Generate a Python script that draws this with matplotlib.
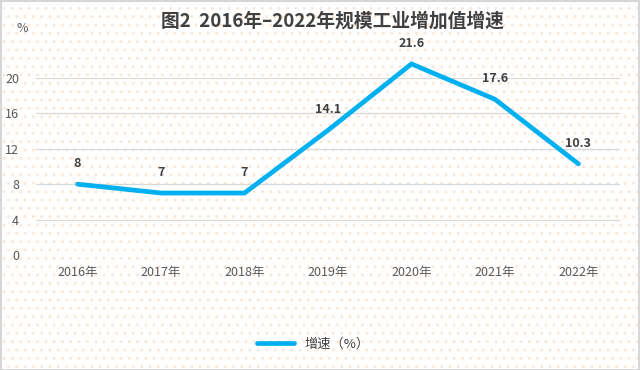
import matplotlib
matplotlib.use('Agg')
import matplotlib.pyplot as plt
from matplotlib.patches import Rectangle

plt.rcParams['font.family'] = ['Noto Sans CJK SC', 'DejaVu Sans']
plt.rcParams['hatch.linewidth'] = 0.8

years = ['2016年', '2017年', '2018年', '2019年', '2020年', '2021年', '2022年']
growth = [8, 7, 7, 14.1, 21.6, 17.6, 10.3]
labels = ['8', '7', '7', '14.1', '21.6', '17.6', '10.3']
yticks = [0, 4, 8, 12, 16, 20]

fig = plt.figure(figsize=(6.4, 3.7), dpi=100)
# dotted background and thin border
fig.patches.append(Rectangle((0, 0), 1, 1, transform=fig.transFigure,
                             facecolor='white', edgecolor='#f9e6d6',
                             hatch='..', linewidth=0, zorder=-10))
fig.patches.append(Rectangle((0.001, 0.001), 0.997, 0.995, transform=fig.transFigure,
                             facecolor='none', edgecolor='#d0d0d0',
                             linewidth=1.2, zorder=-9))

ax = fig.add_axes([0.056, 0.311, 0.913, 0.478])
ax.patch.set_alpha(0)

x = range(len(years))
ax.plot(x, growth, color='#00B0F0', linewidth=3.4, solid_capstyle='round',
        solid_joinstyle='miter', clip_on=False, label='增速（%）', zorder=3)
for xi, v, t in zip(x, growth, labels):
    ax.annotate(t, (xi, v), xytext=(0, 10), textcoords='offset points',
                ha='center', va='bottom', fontsize=9, fontweight='bold',
                color='#404040', annotation_clip=False)

ax.set_xlim(-0.5, len(years) - 0.5)
ax.set_ylim(0, 20)
ax.set_yticks(yticks)
ax.set_xticks(list(x))
ax.set_xticklabels(years)
ax.tick_params(length=0, labelsize=9, colors='#595959', pad=8)
ax.tick_params(axis='y', pad=12)
ax.grid(axis='y', color='#d9d9d9', linewidth=0.9)
ax.set_axisbelow(True)
for s in ax.spines.values():
    s.set_visible(False)

fig.text(0.034, 0.924, '%', fontsize=9, color='#595959', ha='center', va='center')
fig.text(0.52, 0.942, '图2  2016年–2022年规模工业增加值增速', fontsize=13.5,
         fontweight='bold', color='#404040', ha='center', va='center')

fig.legend(loc='center', bbox_to_anchor=(0.49, 0.07), frameon=False,
           fontsize=9.5, handlelength=2.8, labelcolor='#404040')

fig.savefig('out.png', dpi=100)
